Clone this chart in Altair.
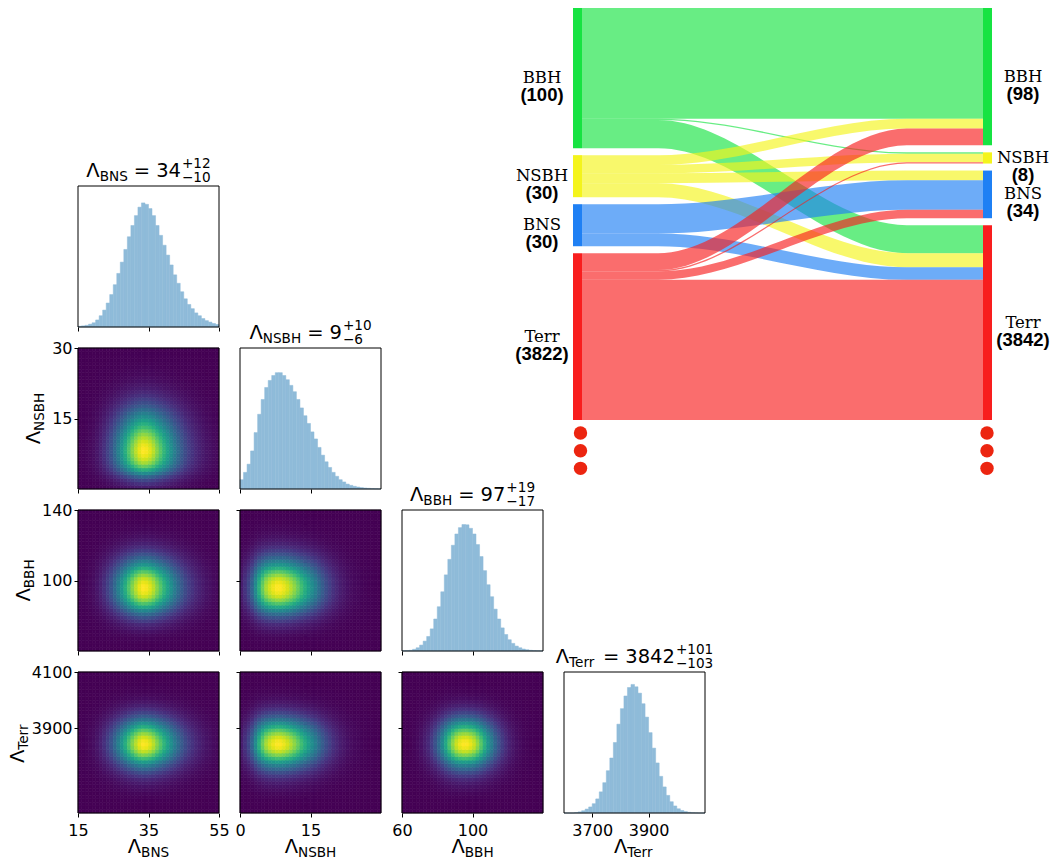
import altair as alt
import pandas as pd

alt.data_transformers.disable_max_rows()

# ---------------- data ----------------
PARAMS = ["BNS", "NSBH", "BBH", "Terr"]
MEDIAN = [34, 9, 97, 3842]
UPPER = [12, 10, 19, 101]
LOWER = [10, 6, 17, 103]
LIMITS = [[15, 55], [0, 30], [60, 140], [3600, 4100]]
XTICKS = [[15, 35, 55], [0, 15], [60, 100], [3700, 3900]]
YTICKS = [[], [15, 30], [100, 140], [3900, 4100]]

# relative bin heights of the marginal histograms (40 equal bins over LIMITS)
HIST_BNS = [0.005, 0.008, 0.012, 0.02, 0.03, 0.05, 0.08, 0.12, 0.17, 0.23,
            0.30, 0.38, 0.46, 0.55, 0.64, 0.72, 0.79, 0.85, 0.88, 0.87,
            0.84, 0.79, 0.72, 0.65, 0.58, 0.51, 0.44, 0.37, 0.31, 0.25,
            0.20, 0.16, 0.13, 0.10, 0.08, 0.06, 0.045, 0.035, 0.025, 0.018]
HIST_NSBH = [0.066, 0.118, 0.176, 0.27, 0.40, 0.53, 0.635, 0.72, 0.77, 0.805,
             0.825, 0.825, 0.805, 0.775, 0.735, 0.69, 0.635, 0.575, 0.52, 0.465,
             0.405, 0.355, 0.295, 0.24, 0.193, 0.153, 0.118, 0.09, 0.066, 0.05,
             0.035, 0.026, 0.019, 0.014, 0.01, 0.007, 0.005, 0.003, 0.002, 0.001]
HIST_BBH = [0.002, 0.003, 0.005, 0.012, 0.023, 0.042, 0.07, 0.103, 0.157, 0.227,
            0.314, 0.42, 0.54, 0.65, 0.75, 0.83, 0.875, 0.897, 0.895, 0.87,
            0.83, 0.755, 0.67, 0.57, 0.47, 0.385, 0.297, 0.227, 0.164, 0.117,
            0.08, 0.054, 0.035, 0.023, 0.014, 0.009, 0.005, 0.003, 0.002, 0.001]
HIST_TERR = [0.0, 0.0, 0.0, 0.003, 0.008, 0.016, 0.028, 0.043, 0.066, 0.10,
             0.15, 0.215, 0.30, 0.39, 0.50, 0.63, 0.74, 0.83, 0.89, 0.912,
             0.895, 0.85, 0.775, 0.68, 0.57, 0.46, 0.355, 0.26, 0.185, 0.125,
             0.08, 0.05, 0.03, 0.018, 0.01, 0.005, 0.002, 0.001, 0.0, 0.0]
HISTS = [HIST_BNS, HIST_NSBH, HIST_BBH, HIST_TERR]

# Sankey: classification before (left) and after (right)
CLASSES = ["BBH", "NSBH", "BNS", "Terr"]
COUNT_BEFORE = [100, 30, 30, 3822]
COUNT_AFTER = [98, 8, 34, 3842]
FLOWS = [            # rows: from (left), columns: to (right)
    [79, 1, 0, 20],
    [7, 6, 7, 10],
    [0, 0, 21, 9],
    [12, 1, 6, 3803],
]
DISPLAY_CAP = 100    # larger flows are drawn truncated (marked with dots)
CLASS_COLORS = ["#17e342", "#f4f41c", "#1f80f4", "#f81e1e"]

# ---------------- layout / style ----------------
P = 141
GAP = 21
FONT = "DejaVu Sans"
TFS = 19.5
SFS = 13.6
HIST_FILL = "#8fbbd9"
ONE = pd.DataFrame({"k": [0]})

ADV = {"Λ": 0.684, "B": 0.686, "N": 0.748, "S": 0.635, "H": 0.752, "T": 0.611,
       "e": 0.615, "r": 0.411, "=": 0.838, "+": 0.838, "−": 0.838, " ": 0.318}


def tw(s, fs):
    return sum(ADV.get(ch, 0.636) for ch in s) * fs


def txt(s, x, y, dx=0.0, dy=0.0, size=16, align="left", angle=0,
        font=FONT, weight="normal", baseline="alphabetic"):
    return alt.Chart(ONE).mark_text(
        text=s, align=align, baseline=baseline, dx=dx, dy=dy, fontSize=size,
        font=font, fontWeight=weight, angle=angle, color="black"
    ).encode(x=alt.value(x), y=alt.value(y))


def sub_label(name, x, y, angle=0):
    w1 = tw("Λ", TFS)
    w2 = tw(name, SFS)
    s = -(w1 + w2) / 2 + w1
    return [txt("Λ", x, y, dx=s, size=TFS, align="right", angle=angle),
            txt(name, x, y, dx=s, dy=4, size=SFS, align="left", angle=angle)]


def hist_title(k):
    name, num = PARAMS[k], str(MEDIAN[k])
    sup, sub = f"+{UPPER[k]}", f"−{LOWER[k]}"
    G = 6
    wL, wN, wE, wM = tw("Λ", TFS), tw(name, SFS), tw("=", TFS), tw(num, TFS)
    wS = max(tw(sup, SFS), tw(sub, SFS))
    W = wL + wN + G + wE + G + wM + 1 + wS
    x = -W / 2
    parts = [("Λ", x, 0, TFS)]
    x += wL
    parts.append((name, x, 4, SFS))
    x += wN + G
    parts.append(("=", x, 0, TFS))
    x += wE + G
    parts.append((num, x, 0, TFS))
    x += wM + 1
    parts.append((sup, x, -8.4, SFS))
    parts.append((sub, x, 5.0, SFS))
    return [txt(t, P / 2, -9.3, dx=dx, dy=dy, size=fs) for t, dx, dy, fs in parts]


def frame():
    return alt.Chart(ONE).mark_rect(fillOpacity=0, stroke="black", strokeWidth=1).encode(
        x=alt.value(0), x2=alt.value(P), y=alt.value(0), y2=alt.value(P))


def x_axis(c, labels):
    return alt.Axis(values=XTICKS[c], labels=labels, ticks=True, domain=False, grid=False,
                    title=None, labelFlush=False, labelOverlap=False, labelPadding=5,
                    tickSize=4, tickColor="black", tickWidth=1, labelFontSize=16,
                    labelFont=FONT, labelColor="black", format="d", zindex=1)


def y_axis(r, labels):
    return alt.Axis(values=YTICKS[r], labels=labels, ticks=True, domain=False, grid=False,
                    title=None, labelFlush=False, labelOverlap=False, labelPadding=2,
                    tickSize=4, tickColor="black", tickWidth=1, labelFontSize=16,
                    labelFont=FONT, labelColor="black", format="d", zindex=1)


YTITLE_X = {1: -38, 2: -48, 3: -54}


def edge_titles(r, c):
    layers = []
    if r == 3:
        layers += sub_label(PARAMS[c], P / 2, 181)
    if c == 0 and r > 0:
        layers += sub_label(PARAMS[r], YTITLE_X[r], P / 2, angle=270)
    return layers


def bin_edges(k):
    lo, hi = LIMITS[k]
    n = len(HISTS[k])
    w = (hi - lo) / n
    return [lo + i * w for i in range(n)], [lo + (i + 1) * w for i in range(n)]


def hist_panel(k):
    a, b = bin_edges(k)
    df = pd.DataFrame({"a": a, "b": b, "h": HISTS[k]})
    bars = alt.Chart(df).mark_rect(color=HIST_FILL, stroke=HIST_FILL, strokeWidth=0.5).encode(
        x=alt.X("a:Q", scale=alt.Scale(domain=LIMITS[k], nice=False, zero=False),
                axis=x_axis(k, k == 3)),
        x2="b:Q",
        y=alt.Y("h:Q", scale=alt.Scale(domain=[0, 1], nice=False), axis=None),
        y2=alt.datum(0),
    )
    layers = [bars, frame()] + hist_title(k) + edge_titles(k, k)
    return alt.layer(*layers).properties(width=P, height=P)


def heat_panel(r, c):
    xa, xb = bin_edges(c)
    ya, yb = bin_edges(r)
    hx, hy = HISTS[c], HISTS[r]
    mx, my = max(hx), max(hy)
    rows = []
    for i in range(len(hx)):
        for j in range(len(hy)):
            rows.append({"a": xa[i], "b": xb[i], "c": ya[j], "d": yb[j],
                         "v": (hx[i] / mx) * (hy[j] / my)})
    df = pd.DataFrame(rows)
    vir = alt.Scale(scheme="viridis", domain=[0, 1])
    heat = alt.Chart(df).mark_rect(strokeWidth=0.6).encode(
        x=alt.X("a:Q", scale=alt.Scale(domain=LIMITS[c], nice=False, zero=False),
                axis=x_axis(c, r == 3)),
        x2="b:Q",
        y=alt.Y("c:Q", scale=alt.Scale(domain=LIMITS[r], nice=False, zero=False),
                axis=y_axis(r, c == 0)),
        y2="d:Q",
        color=alt.Color("v:Q", scale=vir, legend=None),
        stroke=alt.Stroke("v:Q", scale=vir, legend=None),
    )
    layers = [heat, frame()] + edge_titles(r, c)
    return alt.layer(*layers).properties(width=P, height=P)


def blank():
    return alt.Chart(ONE).mark_point(opacity=0).encode(
        x=alt.value(0), y=alt.value(0)).properties(width=P, height=P)


# Sankey placement inside its host cell (row 0, column 2)
FLOW_LEN = 401
SK_XRANGE = [180, 180 + FLOW_LEN]
SK_YRANGE = [-178, 234]
NODE_W = 9
GAP_U = 5
LABEL_OFF = 40
DOT_START, DOT_STEP = 9.3, 12.6


def sankey_panel():
    n = len(CLASSES)
    disp = [[min(v, DISPLAY_CAP) for v in row] for row in FLOWS]
    out_tot = [sum(r) for r in disp]
    in_tot = [sum(disp[i][j] for i in range(n)) for j in range(n)]
    lt, rt = [], []
    y = 0
    for i in range(n):
        lt.append(y)
        y += out_tot[i] + GAP_U
    total_l = y - GAP_U
    y = 0
    for j in range(n):
        rt.append(y)
        y += in_tot[j] + GAP_U
    total_r = y - GAP_U
    U = max(total_l, total_r)

    loff, roff = lt[:], rt[:]
    fl = {}
    for i in range(n):
        for j in range(n):
            d = disp[i][j]
            if d > 0:
                fl[(i, j)] = [loff[i], 0, d]
                loff[i] += d
    for j in range(n):
        for i in range(n):
            d = disp[i][j]
            if d > 0:
                fl[(i, j)][1] = roff[j]
                roff[j] += d

    xs = alt.Scale(domain=[0, FLOW_LEN], range=SK_XRANGE, nice=False, zero=False)
    ysc = alt.Scale(domain=[0, U], range=SK_YRANGE, nice=False, zero=False)

    ts = [0, 0.19 * FLOW_LEN, 0.81 * FLOW_LEN, FLOW_LEN]
    flow_layers = []
    for (i, j), (ys, yt, d) in fl.items():
        df = pd.DataFrame({"t": ts, "y0": [ys, ys, yt, yt],
                           "y1": [ys + d, ys + d, yt + d, yt + d]})
        flow_layers.append(
            alt.Chart(df).mark_area(interpolate="monotone", orient="vertical",
                                    fillOpacity=0.65, color=CLASS_COLORS[i]).encode(
                x=alt.X("t:Q", scale=xs, axis=None),
                y=alt.Y("y0:Q", scale=ysc, axis=None),
                y2="y1:Q",
            )
        )

    nodes = []
    for i in range(n):
        nodes.append({"xa": -NODE_W, "xb": 0, "y0": lt[i], "y1": lt[i] + out_tot[i],
                      "cy": lt[i] + out_tot[i] / 2, "lx": -LABEL_OFF,
                      "name": CLASSES[i], "cnt": f"({COUNT_BEFORE[i]})", "col": CLASS_COLORS[i]})
        nodes.append({"xa": FLOW_LEN, "xb": FLOW_LEN + NODE_W, "y0": rt[i],
                      "y1": rt[i] + in_tot[i], "cy": rt[i] + in_tot[i] / 2,
                      "lx": FLOW_LEN + LABEL_OFF, "name": CLASSES[i],
                      "cnt": f"({COUNT_AFTER[i]})", "col": CLASS_COLORS[i]})
    nodes = pd.DataFrame(nodes)

    dots = pd.DataFrame([{"x": xx, "y": U + DOT_START + DOT_STEP * m}
                         for xx in (-1.5, FLOW_LEN + 4) for m in range(3)])

    bars = alt.Chart(nodes).mark_rect().encode(
        x=alt.X("xa:Q", scale=xs, axis=None), x2="xb:Q",
        y=alt.Y("y0:Q", scale=ysc, axis=None), y2="y1:Q",
        color=alt.Color("col:N", scale=None),
    )
    names = alt.Chart(nodes).mark_text(font="DejaVu Serif", fontSize=16.5, align="center",
                                       baseline="middle", color="black").encode(
        x=alt.X("lx:Q", scale=xs, axis=None), y=alt.Y("cy:Q", scale=ysc, axis=None),
        text="name:N")
    counts = alt.Chart(nodes).mark_text(font="Liberation Sans", fontWeight="bold",
                                        fontSize=18.5, align="center", baseline="middle",
                                        dy=17, color="black").encode(
        x=alt.X("lx:Q", scale=xs, axis=None), y=alt.Y("cy:Q", scale=ysc, axis=None),
        text="cnt:N")
    dot = alt.Chart(dots).mark_circle(size=180, opacity=1, color="#ec2510").encode(
        x=alt.X("x:Q", scale=xs, axis=None), y=alt.Y("y:Q", scale=ysc, axis=None))
    return alt.layer(*flow_layers, bars, names, counts, dot).properties(width=P, height=P)


cells = []
for r in range(4):
    for c in range(4):
        if c == r:
            cells.append(hist_panel(r))
        elif c < r:
            cells.append(heat_panel(r, c))
        elif r == 0 and c == 2:
            cells.append(sankey_panel())
        else:
            cells.append(blank())

chart = alt.concat(*cells, columns=4, spacing=GAP, bounds="flush").properties(
    padding=0
).configure_view(strokeWidth=0)

chart.save("out.html", embed_options={"renderer": "svg", "actions": False})
